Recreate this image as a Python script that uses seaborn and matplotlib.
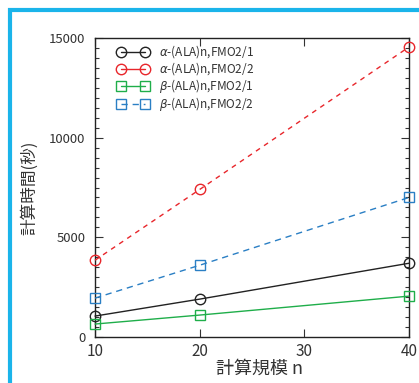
import matplotlib
matplotlib.use("Agg")
import matplotlib.pyplot as plt
import seaborn as sns
import pandas as pd
from matplotlib.patches import Rectangle
from matplotlib.ticker import MultipleLocator

n_values = [10, 20, 40]
alpha_fmo21 = [1050, 1900, 3700]
alpha_fmo22 = [3850, 7400, 14550]
beta_fmo21 = [650, 1100, 2050]
beta_fmo22 = [1950, 3600, 7000]
labels = [r"$\alpha$-(ALA)n,FMO2/1", r"$\alpha$-(ALA)n,FMO2/2",
          r"$\beta$-(ALA)n,FMO2/1", r"$\beta$-(ALA)n,FMO2/2"]

sns.set_style("ticks")
plt.rcParams['font.family'] = ['Noto Sans CJK JP', 'DejaVu Sans']
plt.rcParams['mathtext.fontset'] = 'dejavusans'

fig = plt.figure(figsize=(4.19, 3.83), dpi=100)
ax = fig.add_axes([95/419, 1-337/383, (409-95)/419, (337-38)/383])

# cyan frame
fig.patches.append(Rectangle((10/419, -0.2), 1.5, (1-10/383)+0.2, transform=fig.transFigure,
                             fill=False, edgecolor='#1ab4ea', linewidth=3, zorder=0))

series = [alpha_fmo21, alpha_fmo22, beta_fmo21, beta_fmo22]
colors = ['#222222', '#e8262b', '#1fae4a', '#2a7fc4']
styles = ['-', (0, (3.5, 3.5)), '-', (0, (4.5, 3.5))]
markers = ['o', 'o', 's', 's']
for vals, lab, c, ls, m in zip(series, labels, colors, styles, markers):
    df = pd.DataFrame({'n': n_values, 't': vals})
    sns.lineplot(data=df, x='n', y='t', ax=ax, color=c, linestyle=ls, linewidth=1.0,
                 marker=m, markersize=7.5, markerfacecolor='none', markeredgecolor=c,
                 markeredgewidth=1.0, label=lab, clip_on=False, zorder=3)

ax.set_xlim(10, 40)
ax.set_ylim(0, 15000)
ax.set_xticks([10, 20, 30, 40])
ax.set_yticks([0, 5000, 10000, 15000])
ax.yaxis.set_minor_locator(MultipleLocator(500))
ax.tick_params(axis='both', which='both', direction='in', top=True, right=True,
               colors='#333333', labelcolor='#333333')
ax.tick_params(axis='y', labelsize=9.5, pad=7)
ax.tick_params(axis='x', labelsize=11, pad=4)
ax.tick_params(which='major', length=6, width=0.8)
ax.tick_params(which='minor', length=3, width=0.8)
for s in ax.spines.values():
    s.set_color('#222222')
    s.set_linewidth(1.0)

ax.set_xlabel('計算規模 n', fontsize=13, color='#333333', labelpad=2)
ax.xaxis.set_label_coords(0.525, -0.075)
ax.set_ylabel('計算時間(秒)', fontsize=12, color='#333333', labelpad=8)

leg = ax.legend(loc='upper left', frameon=False, fontsize=8.5, numpoints=2,
                handlelength=2.6, borderaxespad=0.3, labelspacing=0.0,
                handletextpad=0.95, bbox_to_anchor=(0.045, 1.01))
for t in leg.get_texts():
    t.set_color('#333333')
leg.get_lines()[1].set_linestyle('-')

fig.savefig('out.png', dpi=100)
